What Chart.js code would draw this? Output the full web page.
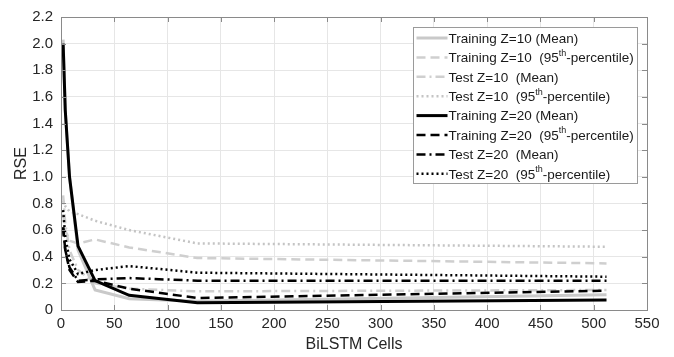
<!DOCTYPE html>
<html>
<head>
<meta charset="utf-8">
<script src="https://cdn.jsdelivr.net/npm/chart.js@4.4.1/dist/chart.umd.min.js"></script>
<style>
    body { margin: 0; background: #fff; }
    canvas { display: block; }
</style>
</head>
<body>
<canvas id="rse-chart" width="674" height="357"></canvas>
<script>
// BiLSTM cell counts (x positions of the measured points)
const cells = [2, 4, 8, 16, 32, 64, 128, 512];

// RSE values
const trainZ10Mean = [2.03, 1.5, 1.0, 0.45, 0.15, 0.085, 0.065, 0.115];
const trainZ10P95  = [0.72, 0.6, 0.52, 0.5, 0.53, 0.47, 0.39, 0.35];
const testZ10Mean  = [0.86, 0.65, 0.45, 0.3, 0.2, 0.16, 0.14, 0.15];
const testZ10P95   = [0.82, 0.78, 0.74, 0.72, 0.67, 0.6, 0.5, 0.475];
const trainZ20Mean = [2.0, 1.5, 1.0, 0.48, 0.22, 0.11, 0.055, 0.075];
const trainZ20P95  = [0.62, 0.45, 0.3, 0.21, 0.22, 0.16, 0.09, 0.145];
const testZ20Mean  = [0.62, 0.45, 0.32, 0.22, 0.23, 0.24, 0.22, 0.22];
const testZ20P95   = [0.75, 0.55, 0.38, 0.27, 0.3, 0.33, 0.28, 0.25];

// Legend labels: [main text, superscript, rest]
const legendLabels = [
    ['Training Z=10 (Mean)', '', ''],
    ['Training Z=10  (95', 'th', '-percentile)'],
    ['Test Z=10  (Mean)', '', ''],
    ['Test Z=10  (95', 'th', '-percentile)'],
    ['Training Z=20 (Mean)', '', ''],
    ['Training Z=20  (95', 'th', '-percentile)'],
    ['Test Z=20  (Mean)', '', ''],
    ['Test Z=20  (95', 'th', '-percentile)']
];

const xTicks = [0, 550, 50];   // min, max, step
const yTicks = [0, 2.2, 0.2];

const LIGHT = '#c9c9c9';
const DARK = '#000000';
const DASH = [9, 5];
const DASHDOT = [9, 4, 2, 4];
const DOT = [2, 3];
const FONT = '"Liberation Sans", Arial, sans-serif';

function toPoints(values) {
    return cells.map((c, i) => ({x: c, y: values[i]}));
}

function series(values, color, dash, width, order) {
    return {
        data: toPoints(values),
        borderColor: color,
        backgroundColor: color,
        borderDash: dash,
        borderWidth: width,
        pointRadius: 0,
        tension: 0,
        fill: false,
        order: order
    };
}

const datasets = [
    series(trainZ10Mean, LIGHT, [], 3, 2),
    series(trainZ10P95, '#cfcfcf', DASH, 2.5, 2),
    series(testZ10Mean, '#cfcfcf', DASHDOT, 2.5, 2),
    series(testZ10P95, '#c4c4c4', DOT, 2.5, 2),
    series(trainZ20Mean, DARK, [], 3, 1),
    series(trainZ20P95, DARK, DASH, 2.5, 1),
    series(testZ20Mean, DARK, DASHDOT, 2.5, 1),
    series(testZ20P95, DARK, DOT, 2.5, 1)
];

// Frame, inward ticks and the boxed legend (MATLAB style)
const matlabFrame = {
    id: 'matlabFrame',
    afterDraw(chart) {
        const ctx = chart.ctx;
        const a = chart.chartArea;
        const xs = chart.scales.x, ys = chart.scales.y;
        ctx.save();
        ctx.strokeStyle = '#8a8a8a';
        ctx.lineWidth = 1;
        ctx.setLineDash([]);
        ctx.strokeRect(Math.round(a.left) + 0.5, Math.round(a.top) + 0.5,
            Math.round(a.right - a.left), Math.round(a.bottom - a.top));
        ctx.beginPath();
        xs.ticks.forEach(t => {
            const px = Math.round(xs.getPixelForValue(t.value)) + 0.5;
            ctx.moveTo(px, a.bottom); ctx.lineTo(px, a.bottom - 5);
            ctx.moveTo(px, a.top); ctx.lineTo(px, a.top + 5);
        });
        ys.ticks.forEach(t => {
            const py = Math.round(ys.getPixelForValue(t.value)) + 0.5;
            ctx.moveTo(a.left, py); ctx.lineTo(a.left + 5, py);
            ctx.moveTo(a.right, py); ctx.lineTo(a.right - 5, py);
        });
        ctx.stroke();

        // legend box
        const bx = 413.5, by = 27.5, bw = 224, bh = 156;
        ctx.fillStyle = '#ffffff';
        ctx.fillRect(bx, by, bw, bh);
        ctx.strokeStyle = '#9a9a9a';
        ctx.strokeRect(bx, by, bw, bh);

        const rowH = 19.4;
        legendLabels.forEach((lab, i) => {
            const ds = chart.data.datasets[i];
            const cy = by + 10.5 + i * rowH;
            ctx.beginPath();
            ctx.strokeStyle = ds.borderColor;
            ctx.lineWidth = ds.borderWidth;
            ctx.setLineDash(ds.borderDash);
            ctx.moveTo(bx + 3, cy);
            ctx.lineTo(bx + 34, cy);
            ctx.stroke();
            ctx.setLineDash([]);

            ctx.fillStyle = '#1a1a1a';
            ctx.textBaseline = 'middle';
            ctx.font = '13.5px ' + FONT;
            let tx = bx + 35;
            ctx.fillText(lab[0], tx, cy + 1);
            tx += ctx.measureText(lab[0]).width;
            if (lab[1]) {
                ctx.font = '9px ' + FONT;
                ctx.fillText(lab[1], tx, cy - 4);
                tx += ctx.measureText(lab[1]).width;
                ctx.font = '13.5px ' + FONT;
                ctx.fillText(lab[2], tx, cy + 1);
            }
        });
        ctx.restore();
    }
};

const ctx = document.getElementById('rse-chart').getContext('2d');
const rseChart = new Chart(ctx, {
    type: 'line',
    data: { datasets: datasets },
    plugins: [matlabFrame],
    options: {
        responsive: false,
        animation: false,
        parsing: false,
        layout: { padding: { top: 13, right: 27, left: 0, bottom: 0 } },
        plugins: {
            legend: { display: false },
            tooltip: { enabled: false }
        },
        scales: {
            x: {
                type: 'linear',
                min: xTicks[0],
                max: xTicks[1],
                afterFit: s => { s.height = 47; },
                ticks: {
                    stepSize: xTicks[2],
                    color: '#262626',
                    padding: 5,
                    maxRotation: 0,
                    font: { family: FONT, size: 15 }
                },
                grid: { color: '#e6e6e6', drawTicks: false },
                border: { display: false },
                title: {
                    display: true,
                    text: 'BiLSTM Cells',
                    color: '#262626',
                    padding: { top: 0, bottom: 3 },
                    font: { family: FONT, size: 16 }
                }
            },
            y: {
                type: 'linear',
                min: yTicks[0],
                max: yTicks[1],
                afterFit: s => { s.width = 61; },
                ticks: {
                    stepSize: yTicks[2],
                    color: '#262626',
                    padding: 8,
                    font: { family: FONT, size: 15 }
                },
                grid: { color: '#e6e6e6', drawTicks: false },
                border: { display: false },
                title: {
                    display: true,
                    text: 'RSE',
                    color: '#262626',
                    padding: { top: 12, bottom: 0 },
                    font: { family: FONT, size: 16 }
                }
            }
        }
    }
});
</script>
</body>
</html>
